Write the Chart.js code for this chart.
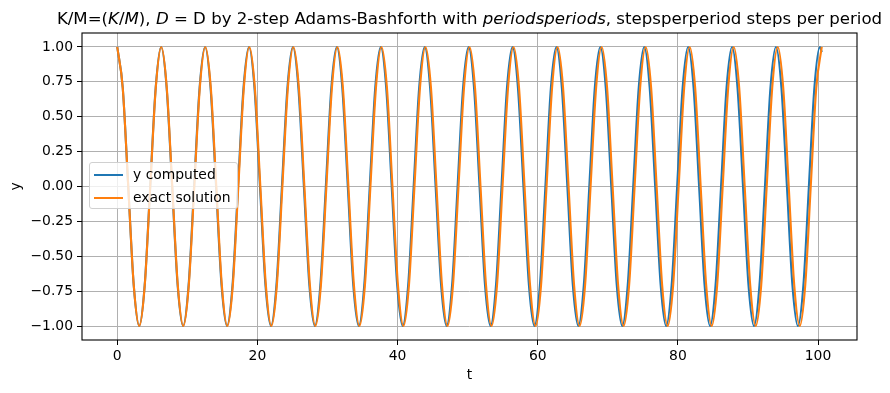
<!DOCTYPE html>
<html><head><meta charset="utf-8">
<script src="https://cdn.jsdelivr.net/npm/chart.js@4"></script>
<style>
body{margin:0;background:#fff;}
#wrap{position:relative;width:890px;height:393px;font-family:"DejaVu Sans",sans-serif;}
#title{position:absolute;left:0;width:939px;top:9px;line-height:normal;text-align:center;font-size:16.6px;white-space:nowrap;color:#000;}
#title i{font-style:italic;}
#legend{position:absolute;left:89px;top:162px;width:147px;height:45px;border:1px solid #d0d0d0;border-radius:3px;background:rgba(255,255,255,0.8);font-size:13.9px;color:#000;}
.li{position:absolute;left:4px;height:20px;line-height:20px;white-space:nowrap;}
.li span{display:inline-block;width:29px;height:2px;vertical-align:middle;margin-right:10px;}
</style></head>
<body>
<div id="wrap">
<canvas id="c" width="890" height="393"></canvas>
<div id="title">K/M=(<i>K</i>/<i>M</i>), <i>D</i> = D by 2-step Adams-Bashforth with <i>periodsperiods</i>, stepsperperiod steps per period</div>
<div id="legend">
<div class="li" style="top:1px"><span style="background:#1f77b4"></span>y computed</div>
<div class="li" style="top:24px"><span style="background:#ff7f0e"></span>exact solution</div>
</div>
</div>
<script>
const tExact = [
0,0.785,1.571,2.356,3.142,3.927,4.712,5.498,
6.283,7.069,7.854,8.639,9.425,10.21,10.996,11.781,
12.566,13.352,14.137,14.923,15.708,16.493,17.279,18.064,
18.85,19.635,20.42,21.206,21.991,22.777,23.562,24.347,
25.133,25.918,26.704,27.489,28.274,29.06,29.845,30.631,
31.416,32.201,32.987,33.772,34.558,35.343,36.128,36.914,
37.699,38.485,39.27,40.055,40.841,41.626,42.412,43.197,
43.982,44.768,45.553,46.339,47.124,47.909,48.695,49.48,
50.265,51.051,51.836,52.622,53.407,54.193,54.978,55.763,
56.549,57.334,58.119,58.905,59.69,60.476,61.261,62.046,
62.832,63.617,64.403,65.188,65.973,66.759,67.544,68.33,
69.115,69.9,70.686,71.471,72.257,73.042,73.827,74.613,
75.398,76.184,76.969,77.754,78.54,79.325,80.111,80.896,
81.681,82.467,83.252,84.038,84.823,85.608,86.394,87.179,
87.965,88.75,89.535,90.321,91.106,91.892,92.677,93.462,
94.248,95.033,95.819,96.604,97.389,98.175,98.96,99.746,
100.531];
const yExact = [
1,0.707,0,-0.707,-1,-0.707,0,0.707, 1,0.707,0,-0.707,-1,-0.707,0,0.707,
1,0.707,0,-0.707,-1,-0.707,0,0.707, 1,0.707,0,-0.707,-1,-0.707,0,0.707,
1,0.707,0,-0.707,-1,-0.707,0,0.707, 1,0.707,0,-0.707,-1,-0.707,0,0.707,
1,0.707,0,-0.707,-1,-0.707,0,0.707, 1,0.707,0,-0.707,-1,-0.707,0,0.707,
1,0.707,0,-0.707,-1,-0.707,0,0.707, 1,0.707,0,-0.707,-1,-0.707,0,0.707,
1,0.707,0,-0.707,-1,-0.707,0,0.707, 1,0.707,0,-0.707,-1,-0.707,0,0.707,
1,0.707,0,-0.707,-1,-0.707,0,0.707, 1,0.707,0,-0.707,-1,-0.707,0,0.707,
1,0.707,0,-0.707,-1,-0.707,0,0.707, 1,0.707,0,-0.707,-1,-0.707,0,0.707,
1];
const tComputed = [
0,0.783,1.567,2.35,3.133,3.916,4.7,5.483,
6.266,7.049,7.833,8.616,9.399,10.182,10.966,11.749,
12.532,13.315,14.099,14.882,15.665,16.448,17.232,18.015,
18.799,19.582,20.366,21.149,21.932,22.715,23.499,24.282,
25.065,25.848,26.632,27.415,28.198,28.981,29.765,30.548,
31.331,32.114,32.898,33.681,34.464,35.247,36.031,36.814,
37.597,38.38,39.164,39.947,40.73,41.513,42.297,43.08,
43.864,44.647,45.431,46.214,46.997,47.78,48.564,49.347,
50.13,50.913,51.697,52.48,53.263,54.046,54.83,55.613,
56.396,57.179,57.963,58.746,59.529,60.312,61.096,61.879,
62.662,63.445,64.229,65.012,65.795,66.578,67.362,68.145,
68.929,69.712,70.496,71.279,72.062,72.845,73.629,74.412,
75.195,75.978,76.762,77.545,78.328,79.111,79.895,80.678,
81.461,82.244,83.028,83.811,84.594,85.377,86.161,86.944,
87.727,88.51,89.294,90.077,90.86,91.643,92.427,93.21,
93.994,94.777,95.561,96.344,97.127,97.91,98.694,99.477,
100.26,100.531];
const yComputed = [
1,0.707,0,-0.707,-1,-0.707,0,0.707, 1,0.707,0,-0.707,-1,-0.707,0,0.707,
1,0.707,0,-0.707,-1,-0.707,0,0.707, 1,0.707,0,-0.707,-1,-0.707,0,0.707,
1,0.707,0,-0.707,-1,-0.707,0,0.707, 1,0.707,0,-0.707,-1,-0.707,0,0.707,
1,0.707,0,-0.707,-1,-0.707,0,0.707, 1,0.707,0,-0.707,-1,-0.707,0,0.707,
1,0.707,0,-0.707,-1,-0.707,0,0.707, 1,0.707,0,-0.707,-1,-0.707,0,0.707,
1,0.707,0,-0.707,-1,-0.707,0,0.707, 1,0.707,0,-0.707,-1,-0.707,0,0.707,
1,0.707,0,-0.707,-1,-0.707,0,0.707, 1,0.707,0,-0.707,-1,-0.707,0,0.707,
1,0.707,0,-0.707,-1,-0.707,0,0.707, 1,0.707,0,-0.707,-1,-0.707,0,0.707,
1,0.963];
const xTicks = [0,20,40,60,80,100];
const yTicks = [-1,-0.75,-0.5,-0.25,0,0.25,0.5,0.75,1];
const seriesNames = ['y computed','exact solution'];

const pts = (xs, ys) => xs.map((x, i) => ({x, y: ys[i]}));
const fnt = {family: 'DejaVu Sans', size: 13.9};

const frame = {
  id: 'frame',
  afterDraw(chart) {
    const {ctx, chartArea: a} = chart;
    ctx.save();
    ctx.strokeStyle = '#000';
    ctx.lineWidth = 1.1;
    ctx.strokeRect(a.left, a.top, a.right - a.left, a.bottom - a.top);
    ctx.restore();
  }
};

new Chart(document.getElementById('c'), {
  type: 'line',
  data: {
    datasets: [
      {label: seriesNames[0], data: pts(tComputed, yComputed), order: 1, borderColor: '#1f77b4', borderWidth: 2.1, pointRadius: 0, cubicInterpolationMode: 'monotone', fill: false},
      {label: seriesNames[1], data: pts(tExact, yExact), order: 0, borderColor: '#ff7f0e', borderWidth: 2.1, pointRadius: 0, cubicInterpolationMode: 'monotone', fill: false}
    ]
  },
  options: {
    responsive: false,
    animation: false,
    devicePixelRatio: 1,
    layout: {padding: {left: 0, right: 33, top: 33, bottom: 0}},
    plugins: {legend: {display: false}, title: {display: false}, tooltip: {enabled: false}},
    scales: {
      x: {
        type: 'linear', min: -5.03, max: 105.56,
        afterBuildTicks: s => { s.ticks = xTicks.map(v => ({value: v})); },
        afterFit: s => { s.height = 53; },
        ticks: {color: '#000', font: fnt, padding: 3, maxRotation: 0, callback: v => String(v)},
        grid: {color: '#b0b0b0', lineWidth: 1, tickColor: '#000', tickLength: 5},
        border: {display: false},
        title: {display: true, text: 't', color: '#000', font: fnt, padding: {top: 2, bottom: 9}}
      },
      y: {
        min: -1.1, max: 1.1,
        afterBuildTicks: s => { s.ticks = yTicks.map(v => ({value: v})); },
        afterFit: s => { s.width = 82; },
        ticks: {color: '#000', font: fnt, padding: 4, callback: v => (v < 0 ? '\u2212' : '') + Math.abs(v).toFixed(2)},
        grid: {color: '#b0b0b0', lineWidth: 1, tickColor: '#000', tickLength: 5},
        border: {display: false},
        title: {display: true, text: 'y', color: '#000', font: fnt, padding: {top: 8, bottom: 4}}
      }
    }
  },
  plugins: [frame]
});
</script>
</body></html>
